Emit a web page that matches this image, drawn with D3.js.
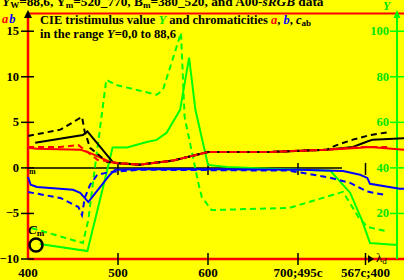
<!DOCTYPE html>
<html>
<head>
<meta charset="utf-8">
<script src="https://cdn.jsdelivr.net/npm/d3@7"></script>
<style>
body { margin: 0; background: #ffff00; }
svg { display: block; font-family: "Liberation Serif", "Times New Roman", serif; font-weight: bold; }
</style>
</head>
<body>
<svg id="svg1"></svg>
<script>
// x positions: 400..700 nm, then complementary wavelengths 495c..567c, then 400 again
var xTicks = [400, 500, 600, 700, 775];
var xTickLabels = ["400", "500", "600", "700;495c", "567c;400"];
var leftTicks = [-10, -5, 0, 5, 10, 15];
var leftTickLabels = ["\u221210", "\u22125", "0", "5", "10", "15"];
var rightTicks = [20, 40, 60, 80, 100];

// tristimulus value Y (right axis)
var ySolid = [[413,6.6],[466,3.5],[488,39],[494,49],[510,49],[532,51.4],[543,52.3],[554,55.4],[569,65.5],[579,88.4],[586,65.5],[600,41.3],[621,40.4],[669,39.6],[736,38.7],[758,29],[771,17.1],[780,7.0],[810,6.2]];
var yDash = [[404,13.6],[461,7.0],[467,17.1],[474,39.1],[487,78.7],[497,76.5],[543,72.1],[550,74.3],[570,99.3],[574,62.4],[589,33.8],[593,27.3],[604,21.5],[690,22.4],[750,29.5],[767,18.5],[777,14.1],[797,12.3]];

// chromaticities a, b, cab (left axis)
var aSolid = [[400,2.2],[410,2.1],[458,2.0],[466,1.75],[477,1.3],[491,0.65],[499,0.5],[524,0.35],[561,0.8],[600,1.75],[669,1.75],[732,2.0],[769,2.2],[780,2.3],[818,2.0]];
var bSolid = [[400,-1.0],[403,-1.85],[410,-2.1],[450,-2.4],[458,-2.75],[463,-3.3],[467,-3.75],[491,-0.75],[497,-0.2],[524,-0.15],[600,-0.15],[702,-0.2],[750,-0.35],[769,-0.75],[777,-1.1],[780,-1.75],[813,-2.3],[818,-2.3]];
var cSolid = [[408,2.75],[461,3.6],[466,4.0],[494,0.65],[499,0.5],[524,0.35],[561,0.8],[600,1.75],[669,1.75],[732,2.0],[761,2.3],[777,2.9],[783,3.1],[818,3.25]];
var aDash = [[400,2.3],[436,2.3],[456,2.5],[477,0.9],[499,0.55],[524,0.35],[561,0.8],[600,1.75],[669,1.75],[732,2.0],[769,2.3],[799,2.3]];
var bDash = [[400,-2.65],[436,-3.3],[456,-4.3],[460,-5.2],[463,-3.3],[469,-1.85],[477,-0.75],[491,-0.45],[524,-0.2],[690,-0.3],[702,-0.5],[732,-1.0],[758,-1.65],[777,-2.6],[799,-3.0]];
var cDash = [[400,3.5],[436,4.2],[460,5.6],[463,4.0],[469,2.2],[488,0.65],[499,0.55],[524,0.35],[561,0.8],[600,1.75],[669,1.75],[732,2.0],[743,2.5],[761,3.1],[780,3.6],[799,3.9]];

var width = 404, height = 280;
var svg = d3.select('#svg1')
  .attr('width', width)
  .attr('height', height);

var x = d3.scaleLinear().domain([400, 700]).range([28, 298]);
var yL = d3.scaleLinear().domain([-10, 17]).range([259, 13]);
var yR = d3.scaleLinear().domain([0, 108]).range([259, 13]);

var red = '#ff0000', blue = '#0000ff', green = '#00ff00', greenText = '#00e600';

// title (clipped at top)
var title = svg.append('text').attr('x', 2).attr('y', 6).attr('font-size', 13.3);
title.append('tspan').attr('font-style', 'italic').text('Y');
title.append('tspan').attr('font-size', 9).attr('dy', 2).text('W');
title.append('tspan').attr('dy', -2).text('=88,6, Y');
title.append('tspan').attr('font-size', 9).attr('dy', 2).text('m');
title.append('tspan').attr('dy', -2).text('=520_770, B');
title.append('tspan').attr('font-size', 9).attr('dy', 2).text('m');
title.append('tspan').attr('dy', -2).text('=380_520, and A00-');
title.append('tspan').attr('font-style', 'italic').text('sRGB');
title.append('tspan').text(' data');

// frame lines
svg.append('line').attr('x1', 28).attr('x2', width).attr('y1', 13.5).attr('y2', 13.5)
  .attr('stroke', red).attr('stroke-width', 2);
svg.append('line').attr('x1', 28).attr('x2', width).attr('y1', yL(-10)).attr('y2', yL(-10))
  .attr('stroke', red).attr('stroke-width', 2.5);
svg.append('line').attr('x1', 28).attr('x2', 28).attr('y1', 13).attr('y2', yL(-10))
  .attr('stroke', red).attr('stroke-width', 2.5);
svg.append('path').attr('d', 'M24,18L28,10L32,18Z').attr('fill', '#000');

// right green axis
svg.append('line').attr('x1', 397).attr('x2', 397).attr('y1', 13).attr('y2', yR(0))
  .attr('stroke', green).attr('stroke-width', 2);
svg.append('path').attr('d', 'M393.5,18L397,10L400.5,18Z').attr('fill', green);
svg.append('text').attr('x', 383).attr('y', 10).attr('font-size', 12)
  .attr('font-style', 'italic').attr('fill', greenText).text('Y');

// zero line
svg.append('line').attr('x1', 28).attr('x2', 342).attr('y1', yL(0)).attr('y2', yL(0))
  .attr('stroke', '#000').attr('stroke-width', 1.5);

// left ticks
svg.selectAll('.ltick').data(leftTicks).enter().append('line')
  .attr('class', 'ltick')
  .attr('x1', 21).attr('x2', 34)
  .attr('y1', function(d) { return yL(d); })
  .attr('y2', function(d) { return yL(d); })
  .attr('stroke', '#000').attr('stroke-width', 1.5);
svg.selectAll('.llab').data(leftTicks).enter().append('text')
  .attr('class', 'llab')
  .attr('x', 19)
  .attr('y', function(d) { return yL(d) + 4; })
  .attr('text-anchor', 'end').attr('font-size', 12.5)
  .text(function(d, i) { return leftTickLabels[i]; });

// right ticks
svg.selectAll('.rtick').data(rightTicks).enter().append('line')
  .attr('class', 'rtick')
  .attr('x1', 390).attr('x2', 404)
  .attr('y1', function(d) { return yR(d); })
  .attr('y2', function(d) { return yR(d); })
  .attr('stroke', green).attr('stroke-width', 1.5);
svg.selectAll('.rlab').data(rightTicks).enter().append('text')
  .attr('class', 'rlab')
  .attr('x', 389)
  .attr('y', function(d) { return yR(d) + 4; })
  .attr('text-anchor', 'end').attr('font-size', 12.5).attr('fill', greenText)
  .text(function(d) { return d; });

// x ticks (bottom and on zero line)
svg.selectAll('.xtick').data(xTicks.slice(1)).enter().append('line')
  .attr('class', 'xtick')
  .attr('x1', function(d) { return x(d); })
  .attr('x2', function(d) { return x(d); })
  .attr('y1', yL(-10) - 6).attr('y2', yL(-10) + 6)
  .attr('stroke', '#000').attr('stroke-width', 1.5);
svg.selectAll('.ztick').data(xTicks.slice(1)).enter().append('line')
  .attr('class', 'ztick')
  .attr('x1', function(d) { return x(d); })
  .attr('x2', function(d) { return x(d); })
  .attr('y1', yL(0) - 5).attr('y2', yL(0) + 7)
  .attr('stroke', '#000').attr('stroke-width', 1.5);
svg.selectAll('.xlab').data(xTicks).enter().append('text')
  .attr('class', 'xlab')
  .attr('x', function(d) { return x(d); })
  .attr('y', 277)
  .attr('text-anchor', 'middle').attr('font-size', 13)
  .text(function(d, i) { return xTickLabels[i]; });

// lambda_d arrow
svg.append('path').attr('d', 'M368,255L374,259L368,263Z').attr('fill', '#000');
var ld = svg.append('text').attr('x', 376).attr('y', 262).attr('font-size', 13)
  .attr('font-weight', 'normal').attr('fill', '#000');
ld.append('tspan').text('\u03bb');
ld.append('tspan').attr('font-size', 9).attr('dy', 2).text('d');

// a b label
var ab = svg.append('text').attr('x', 2).attr('y', 23).attr('font-size', 12.5).attr('font-style', 'italic');
ab.append('tspan').attr('fill', red).text('a');
ab.append('tspan').attr('fill', blue).attr('dx', 1).text('b');

// legend text
var l1 = svg.append('text').attr('x', 40).attr('y', 24).attr('font-size', 12.5);
l1.append('tspan').text('CIE tristimulus value ');
l1.append('tspan').attr('font-style', 'italic').attr('fill', greenText).text('Y');
l1.append('tspan').text(' and chromaticities ');
l1.append('tspan').attr('font-style', 'italic').attr('fill', red).text('a');
l1.append('tspan').text(', ');
l1.append('tspan').attr('font-style', 'italic').attr('fill', blue).text('b');
l1.append('tspan').text(', ');
l1.append('tspan').attr('font-style', 'italic').text('c');
l1.append('tspan').attr('font-size', 9).attr('dy', 2).text('ab');
var l2 = svg.append('text').attr('x', 40).attr('y', 37.5).attr('font-size', 12.5);
l2.append('tspan').text('in the range ');
l2.append('tspan').attr('font-style', 'italic').text('Y');
l2.append('tspan').text('=0,0 to 88,6');

// curves
var lineL = d3.line().x(function(d) { return x(d[0]); }).y(function(d) { return yL(d[1]); });
var lineR = d3.line().x(function(d) { return x(d[0]); }).y(function(d) { return yR(d[1]); });

var series = [
  { data: yDash, line: lineR, color: green, dash: '6,4' },
  { data: ySolid, line: lineR, color: green, dash: null },
  { data: bSolid, line: lineL, color: blue, dash: null },
  { data: bDash, line: lineL, color: blue, dash: '6,4' },
  { data: cSolid, line: lineL, color: '#000', dash: null },
  { data: aSolid, line: lineL, color: red, dash: null },
  { data: cDash, line: lineL, color: '#000', dash: '6,4' },
  { data: aDash, line: lineL, color: red, dash: '6,4' }
];
svg.selectAll('.curve').data(series).enter().append('path')
  .attr('class', 'curve')
  .attr('d', function(d) { return d.line(d.data); })
  .attr('fill', 'none')
  .attr('stroke', function(d) { return d.color; })
  .attr('stroke-width', 2)
  .attr('stroke-dasharray', function(d) { return d.dash; });

// Cm marker and small label on zero line
var cm = svg.append('text').attr('x', 28).attr('y', 234).attr('font-size', 13);
cm.append('tspan').attr('font-style', 'italic').text('C');
cm.append('tspan').attr('font-size', 9).attr('dy', 2).text('m');
svg.append('circle').attr('cx', 36).attr('cy', 245).attr('r', 6.5)
  .attr('fill', 'none').attr('stroke', '#000').attr('stroke-width', 2.5);
svg.append('text').attr('x', 29).attr('y', 174).attr('font-size', 8).text('m');
</script>
</body>
</html>
